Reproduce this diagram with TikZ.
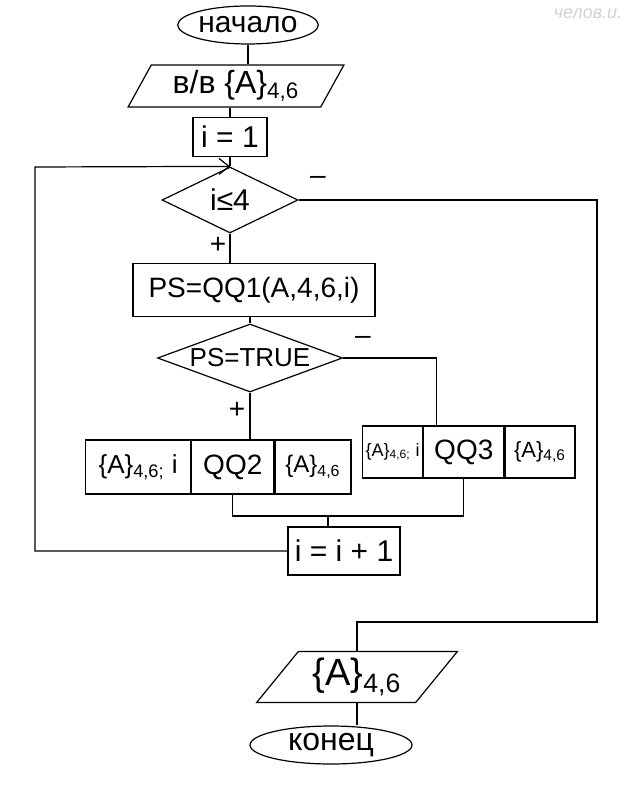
\documentclass[tikz,border=0pt]{standalone}
\usepackage{fontspec}
\setmainfont{Liberation Sans}
\usetikzlibrary{arrows.meta,shapes.geometric,positioning}

\newcommand{\fs}[1]{\fontsize{#1}{#1}\selectfont}
\tikzset{
  term/.style={ellipse, draw, inner sep=0pt},
  io/.style={trapezium, draw, trapezium stretches=true, inner sep=0pt},
  proc/.style={rectangle, draw, inner sep=1pt},
  decision/.style={diamond, draw, inner sep=0pt, aspect=2},
  cell/.style={rectangle, draw, inner sep=0pt, anchor=west},
  sign/.style={inner sep=1pt, font=\fs{14}},
}

\begin{document}
\begin{tikzpicture}[x=0.5pt,y=-0.5pt,>={Straight Barb[length=5pt,width=8pt]},line width=0.6pt]
\useasboundingbox (0,0) rectangle (632,795);

% blocks
\node[term, minimum width=67.5pt, minimum height=19pt, font=\fs{15}] (start) at (248,25) {начало};
\node[io, trapezium left angle=61, trapezium right angle=119, minimum width=108pt, minimum height=21pt, font=\fs{16}] (input) at (236,86) {в/в \{A\}\textsubscript{4,6}};
\node[proc, minimum width=37pt, minimum height=19.5pt, font=\fs{15}] (init) at (230,137) {i = 1};
\node[decision, minimum width=68pt, minimum height=33pt, font=\fs{15}] (cond1) at (230,200) {i≤4};
\node[proc, minimum width=121pt, minimum height=26.5pt, font=\fs{14}] (calc) at (254,290) {PS=QQ1(A,4,6,i)};
\node[decision, aspect=2.7, minimum width=92.5pt, minimum height=34pt, font=\fs{13}] (cond2) at (250,358) {PS=TRUE};

% QQ2 call
\node[cell, minimum width=52.5pt, minimum height=27pt, font=\fs{13}] (a1) at (85,467) {\{A\}\textsubscript{4,6;} i};
\node[cell, minimum width=41pt, minimum height=27pt, font=\fs{14}] (a2) at (a1.east) {QQ2};
\node[cell, minimum width=38pt, minimum height=27pt, font=\fs{12}] (a3) at (a2.east) {\{A\}\textsubscript{4,6}};
% QQ3 call
\node[cell, minimum width=30pt, minimum height=26pt, font=\fs{9}] (b1) at (362,452) {\{A\}\textsubscript{4,6;} i};
\node[cell, minimum width=40pt, minimum height=26pt, font=\fs{14}] (b2) at (b1.east) {QQ3};
\node[cell, minimum width=35pt, minimum height=26pt, font=\fs{11}] (b3) at (b2.east) {\{A\}\textsubscript{4,6}};

\node[proc, minimum width=56pt, minimum height=24pt, font=\fs{15}] (incr) at (344,551) {i = i + 1};
\node[io, trapezium left angle=50, trapezium right angle=130, minimum width=101pt, minimum height=25.5pt, font=\fs{19}] (output) at (357,677) {\{A\}\textsubscript{4,6}};
\node[term, minimum width=81pt, minimum height=19pt, font=\fs{16}] (stop) at (331,745) {конец};

% branch marks
\node[sign] (yes1) at (218,245) {+};
\node[sign] (no1) at (318,180) {–};
\node[sign] (yes2) at (237,410) {+};
\node[sign] (no2) at (363,340) {–};
\node[font=\itshape\fs{9}, text=gray!35] (note) at (588,14) {челов.и.};

\coordinate (loopL) at (35,167);
\coordinate (exitR) at (597,622);
\coordinate (join) at (328,516);

% lines
\draw (start.south) -- (start.south |- input.north);
\draw (init.north |- input.south) -- (init.north);
\draw (init.south) -- (cond1.north);
\draw[->] (incr.west) -| (loopL) -- (cond1.north);
\draw (cond1.south) -- (cond1.south |- calc.north);
\draw (cond1.east) -| (exitR) -| (output.north);
\draw (cond2.north |- calc.south) -- (cond2.north);
\draw (cond2.south) -- (cond2.south |- a2.north);
\draw (cond2.east) -| ([xshift=-13.5pt]b2.north);
\draw (a2.south) |- (join) -| (b2.south);
\draw (join) -- (join |- incr.north);
\draw (output.south) -- (stop.north -| output.south);
\end{tikzpicture}
\end{document}
